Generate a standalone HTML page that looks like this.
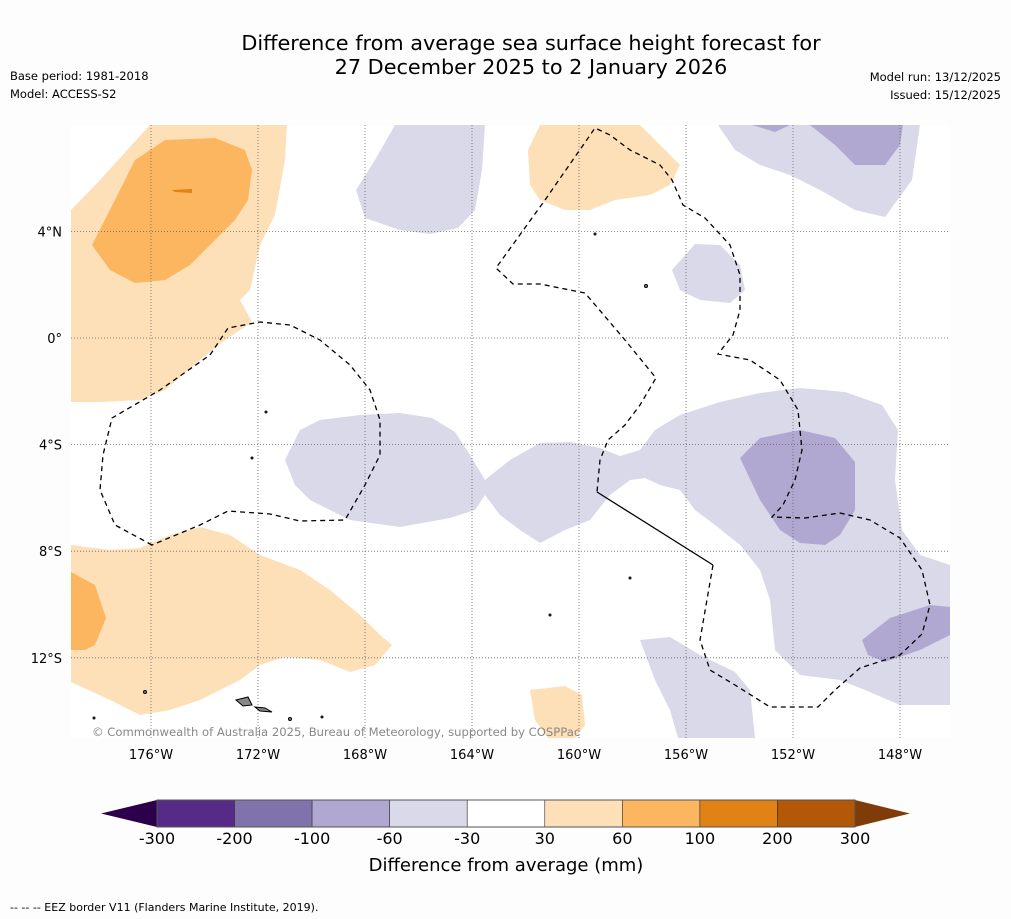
<!DOCTYPE html>
<html><head><meta charset="utf-8">
<style>
body{margin:0;background:#fdfdfd;font-family:"DejaVu Sans",sans-serif;}
svg{display:block}
</style></head>
<body>
<svg id="chart" width="1011" height="919" viewBox="0 0 1011 919" xmlns="http://www.w3.org/2000/svg" font-family="DejaVu Sans, sans-serif">
<rect width="1011" height="919" fill="#fdfdfd"/>
<text x="531" y="50" font-size="20.8" text-anchor="middle">Difference from average sea surface height forecast for</text>
<text x="531" y="74" font-size="20.8" text-anchor="middle">27 December 2025 to 2 January 2026</text>
<text x="10" y="80" font-size="11.5">Base period: 1981-2018</text>
<text x="10" y="98" font-size="11.5">Model: ACCESS-S2</text>
<text x="1001" y="81" font-size="11.5" text-anchor="end">Model run: 13/12/2025</text>
<text x="1001" y="99" font-size="11.5" text-anchor="end">Issued: 15/12/2025</text>

<g>
<rect x="71" y="125" width="879" height="613" fill="#ffffff"/>
<clipPath id="mc"><rect x="71" y="125" width="879" height="613"/></clipPath>
<g clip-path="url(#mc)" stroke="none">
<path fill="#fde0b7" d="M71,210 L100,180 L150,125 L287,125 L285,160 L275,215 L260,245 L250,290 L240,300 L252,322 L225,340 L200,360 L165,390 L140,400 L100,402 L71,402Z"/>
<path fill="#fbb65f" d="M92,245 L115,200 L135,160 L165,140 L215,138 L245,150 L252,170 L248,200 L235,220 L210,245 L190,265 L165,280 L135,283 L110,270Z"/>
<path fill="#e08214" d="M172,190 L192,189 L192,193 L175,192Z"/>
<path fill="#fde0b7" d="M540,125 L640,125 L680,165 L670,185 L650,195 L615,200 L590,210 L565,210 L540,200 L530,185 L528,150Z"/>
<path fill="#fde0b7" d="M71,545 L110,550 L140,548 L170,535 L200,527 L230,535 L260,555 L300,570 L330,590 L360,615 L380,635 L392,645 L375,665 L350,672 L320,660 L285,657 L260,665 L240,680 L220,690 L200,700 L170,710 L140,715 L110,700 L71,682Z"/>
<path fill="#fbb65f" d="M71,572 L95,585 L106,618 L95,645 L85,650 L71,650Z"/>
<path fill="#fde0b7" d="M530,690 L565,686 L582,695 L585,725 L575,738 L548,738 L535,720Z"/>
<path fill="#d9d9ea" d="M395,125 L485,125 L482,170 L475,210 L458,228 L430,234 L400,230 L365,218 L356,190 L375,160Z"/>
<path fill="#d9d9ea" d="M718,125 L920,125 L912,180 L885,217 L855,210 L820,190 L790,175 L760,165 L735,150Z"/>
<path fill="#b0a8d0" d="M752,125 L790,125 L775,132Z M810,125 L903,125 L900,145 L885,165 L855,165 L835,145Z"/>
<path fill="#d9d9ea" d="M672,270 L695,244 L720,245 L740,265 L745,290 L730,303 L700,300 L680,290Z"/>
<path fill="#d9d9ea" d="M285,460 L300,430 L320,420 L360,415 L400,413 L432,418 L455,432 L470,455 L485,480 L510,460 L540,443 L570,442 L600,448 L620,456 L640,450 L655,430 L680,415 L720,402 L760,393 L800,388 L845,392 L882,405 L898,430 L895,480 L902,530 L920,555 L950,565 L950,705 L900,705 L865,690 L840,680 L800,675 L775,650 L770,600 L760,570 L740,545 L715,525 L695,510 L680,490 L660,485 L645,478 L630,480 L610,495 L590,520 L565,530 L540,543 L520,530 L500,515 L485,495 L475,510 L450,518 L400,527 L350,520 L310,500 L295,485Z"/>
<path fill="#b0a8d0" d="M740,458 L760,438 L800,430 L835,438 L855,462 L855,510 L840,535 L825,545 L800,543 L780,530 L760,500Z"/>
<path fill="#b0a8d0" d="M862,640 L890,618 L930,605 L950,607 L950,635 L920,650 L885,662 L868,655Z"/>
<path fill="#d9d9ea" d="M640,640 L670,637 L700,655 L735,672 L750,690 L755,738 L678,738 L670,710 L655,680Z"/>
</g>
<g id="grid" stroke="#666" stroke-width="0.8" stroke-dasharray="1,2" fill="none"></g>
<g fill="none" stroke="#000" stroke-width="1.3">
<path stroke-dasharray="5,4" d="M152,545 L115,525 L100,490 L103,455 L112,418 L160,390 L210,355 L228,328 L260,322 L290,325 L320,340 L350,365 L370,390 L380,420 L380,455 L365,485 L345,520 L300,521 L270,514 L228,511 L200,525 Z"/>
<path stroke-dasharray="5,4" d="M713,565 L700,640 L710,670 L735,685 L770,707 L818,707 L835,690 L860,668 L900,655 L922,634 L930,605 L922,570 L900,538 L870,520 L840,513 L805,518 L772,517 L783,505 L795,480 L802,450 L798,410 L780,380 L750,360 L718,354 L733,335 L740,310 L740,275 L730,245 L705,218 L683,205 L672,180 L660,165 L630,150 L610,135 L595,128 L545,200 L496,268 L513,284 L540,284 L585,293 L625,340 L656,378 L640,405 L625,425 L608,440 L600,460 L597,492"/>
<path d="M597,492 L713,565"/>
</g>
<g fill="#888" stroke="#000" stroke-width="1">
<path d="M236,700 L248,697 L252,705 L243,706Z"/><path d="M255,707 L265,708 L272,712 L260,711Z"/>
<circle cx="145" cy="692" r="1.5"/><circle cx="266" cy="412" r="1"/><circle cx="252" cy="458" r="1"/><circle cx="646" cy="286" r="1.5"/><circle cx="595" cy="234" r="1"/><circle cx="630" cy="578" r="1"/><circle cx="550" cy="615" r="1"/><circle cx="290" cy="719" r="1.5"/><circle cx="322" cy="717" r="1"/><circle cx="94" cy="718" r="1"/>
</g>
<text x="92" y="736" font-size="11.6" fill="#888">© Commonwealth of Australia 2025, Bureau of Meteorology, supported by COSPPac</text>
</g>
<g id="axes"></g>
<g id="colorbar"></g>
<text x="506" y="871" font-size="18" text-anchor="middle">Difference from average (mm)</text>
<text x="10" y="911" font-size="11">--  --  -- EEZ border V11 (Flanders Marine Institute, 2019).</text>
</svg>
<script>
const lonTicks=[-176,-172,-168,-164,-160,-156,-152,-148];
const latTicks=[4,0,-4,-8,-12];
const cbBounds=[-300,-200,-100,-60,-30,30,60,100,200,300];
const cbColors=["#572a87","#8073ab","#b0a8d0","#d9d9ea","#ffffff","#fde0b7","#fbb65f","#e08214","#b35806"];
const NS="http://www.w3.org/2000/svg";
const xLon=l=>151+(l+176)*26.75;
const yLat=a=>338-a*26.65;
function mk(t,attrs,parent,txt){const e=document.createElementNS(NS,t);for(const k in attrs)e.setAttribute(k,attrs[k]);if(txt!==undefined)e.textContent=txt;parent.appendChild(e);return e;}
const grid=document.getElementById('grid'),axes=document.getElementById('axes'),cb=document.getElementById('colorbar');
lonTicks.forEach(l=>{
  const g=mk('line',{x1:xLon(l),x2:xLon(l),y1:125,y2:738},grid);
  
  
  const t=mk('text',{x:xLon(l),y:759,'font-size':13,'text-anchor':'middle'},axes,Math.abs(l)+'°W');
  
  
});
latTicks.forEach(a=>{
  const g=mk('line',{x1:71,x2:950,y1:yLat(a),y2:yLat(a)},grid);
  
  
  const lab=a===0?'0°':Math.abs(a)+'°'+(a>0?'N':'S');
  const t=mk('text',{x:62,y:yLat(a)+5,'font-size':13,'text-anchor':'end'},axes,lab);
  
  
});
const x0=157,x1=855,y0=800,h=27;
const cx=i=>x0+i*(x1-x0)/(cbBounds.length-1);
const lt=mk('polygon',{points:`${x0},${y0} 101,${y0+h/2} ${x0},${y0+h}`,fill:'#2d004b'},cb);


const rt=mk('polygon',{points:`${x1},${y0} 910,${y0+h/2} ${x1},${y0+h}`,fill:'#7f3b08'},cb);


cbColors.forEach((c,i)=>{
  const r=mk('rect',{x:cx(i),y:y0,width:cx(i+1)-cx(i),height:h,fill:c,stroke:'#333','stroke-width':0.6},cb);
  
  
});
mk('rect',{x:x0,y:y0,width:x1-x0,height:h,fill:'none',stroke:'#555','stroke-width':1},cb);
cbBounds.forEach((b,i)=>{
  const t=mk('text',{x:cx(i),y:844,'font-size':16,'text-anchor':'middle'},cb,String(b));
  
  
});
</script>
</body></html>
